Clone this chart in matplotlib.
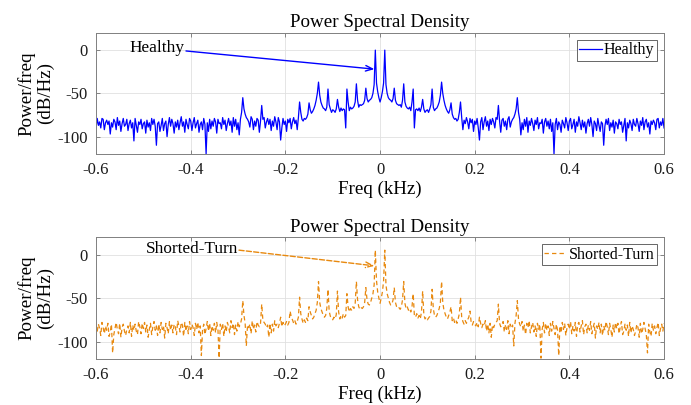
import numpy as np
import matplotlib
matplotlib.use('Agg')
import matplotlib.pyplot as plt

plt.rcParams['font.family'] = ['Liberation Serif', 'DejaVu Serif']
plt.rcParams['axes.unicode_minus'] = False

# one-sided half of the two-sided PSD (0 .. 0.6 kHz, step 0.0025 kHz); spectrum is mirror symmetric
freq_step = 0.0025
healthy_half = [
    -60, -55, -48, -38, 0, -40, -50, -55,
    -57, -58, -60, -56, -44, -58, -62, -63,
    -64, -63, -66, -58, -39, -60, -65, -67,
    -68, -66, -70, -60, -45, -90, -69, -68,
    -70, -67, -71, -66, -57, -68, -72, -70,
    -69, -72, -68, -63, -45, -66, -70, -68,
    -67, -64, -60, -52, -37, -50, -58, -64,
    -68, -71, -73, -69, -61, -74, -78, -80,
    -79, -82, -80, -72, -60, -78, -92, -81,
    -85, -78, -83, -91, -79, -84, -80, -94,
    -82, -86, -79, -90, -104, -83, -78, -92,
    -83, -77, -88, -82, -93, -80, -86, -79,
    -83, -90, -78, -80, -64, -82, -95, -81,
    -79, -88, -82, -92, -80, -77, -89, -83,
    -80, -78, -74, -68, -55, -72, -80, -98,
    -84, -92, -80, -88, -78, -95, -82, -87,
    -79, -85, -93, -81, -86, -78, -91, -84,
    -85, -80, -96, -83, -79, -88, -82, -91,
    -80, -94, -84, -120, -86, -79, -92, -83,
    -86, -95, -81, -85, -90, -78, -84, -93,
    -82, -79, -91, -86, -80, -95, -83, -88,
    -77, -84, -92, -81, -89, -83, -96, -85,
    -80, -88, -78, -86, -100, -82, -85, -93,
    -79, -87, -94, -83, -85, -110, -88, -80,
    -86, -79, -93, -84, -89, -81, -96, -83,
    -85, -91, -80, -86, -83, -95, -87, -79,
    -105, -84, -90, -81, -85, -93, -80, -86,
    -88, -79, -85, -94, -82, -87, -78, -92,
    -83, -80, -89, -84, -97, -82, -86, -81,
    -84, -92, -80, -79, -90, -83, -87, -79,
    -90,
]
shorted_half = [
    -56, -50, -43, -30, 5, -35, -45, -50,
    -55, -58, -57, -52, -38, -55, -60, -62,
    -61, -63, -60, -52, -31, -56, -62, -60,
    -64, -62, -66, -60, -45, -70, -72, -68,
    -73, -70, -74, -66, -42, -69, -74, -72,
    -75, -73, -71, -65, -40, -62, -70, -72,
    -70, -66, -62, -55, -31, -55, -64, -68,
    -72, -74, -70, -66, -60, -76, -73, -78,
    -75, -79, -74, -68, -49, -72, -77, -80,
    -76, -79, -75, -72, -65, -78, -81, -77,
    -80, -82, -78, -83, -72, -79, -84, -80,
    -82, -76, -88, -80, -90, -79, -95, -81,
    -84, -80, -78, -76, -57, -79, -83, -81,
    -77, -89, -81, -86, -76, -91, -80, -84,
    -81, -105, -79, -70, -53, -74, -80, -83,
    -77, -88, -81, -92, -79, -84, -76, -90,
    -83, -78, -89, -82, -94, -79, -86, -80,
    -119, -86, -78, -90, -79, -87, -82, -93,
    -79, -88, -77, -85, -92, -80, -87, -116,
    -82, -90, -78, -86, -79, -93, -84, -80,
    -86, -77, -91, -82, -88, -78, -94, -81,
    -78, -89, -82, -76, -92, -83, -80, -90,
    -81, -87, -77, -91, -84, -79, -96, -82,
    -86, -78, -90, -80, -93, -82, -87, -77,
    -83, -92, -79, -86, -95, -81, -89, -78,
    -85, -79, -91, -83, -77, -92, -88, -80,
    -87, -81, -94, -78, -90, -82, -86, -93,
    -88, -80, -84, -95, -79, -91, -86, -78,
    -85, -92, -113, -80, -89, -94, -79, -87,
    -82, -91, -84, -78, -93, -85, -80, -88,
    -79,
]

x_ticks = [-0.6, -0.4, -0.2, 0, 0.2, 0.4, 0.6]
x_ticklabels = ['-0.6', '-0.4', '-0.2', '0', '0.2', '0.4', '0.6']
y_ticks = [-100, -50, 0]

# (label, data, colour, linestyle, text pos, arrow tail, arrow head)
panels = [
    ('Healthy', healthy_half, '#0000FF', '-', (-0.413, 2.5), (-0.41, -1), (-0.012, -22)),
    ('Shorted-Turn', shorted_half, '#E8890F', (0, (3.5, 2.5)), (-0.30, 6.5), (-0.298, 5), (-0.012, -13)),
]


def mirror(half):
    half = np.asarray(half, dtype=float)
    return np.concatenate([half[:0:-1], half])


f_half = np.arange(len(healthy_half)) * freq_step
freq = np.concatenate([-f_half[:0:-1], f_half])

fig = plt.figure(figsize=(6.91, 4.05), dpi=100)
axes_pos = [[0.139, 0.620, 0.822, 0.299], [0.139, 0.1136, 0.822, 0.301]]

for pos, (label, half, color, ls, txt_pos, tail, head) in zip(axes_pos, panels):
    ax = fig.add_axes(pos)
    ax.plot(freq, mirror(half), color=color, lw=0.9, ls=ls, label=label)
    ax.set_xlim(-0.6, 0.6)
    ax.set_ylim(-120, 20)
    ax.set_xticks(x_ticks)
    ax.set_xticklabels(x_ticklabels)
    ax.set_yticks(y_ticks)
    ax.grid(True, color='0.88', lw=0.6)
    ax.set_axisbelow(True)
    ax.tick_params(direction='in', length=3, width=0.6, colors='0.45', labelcolor='0.1',
                   labelsize=12, pad=6, top=True, right=True)
    for s in ax.spines.values():
        s.set_color('0.5')
        s.set_linewidth(0.7)
    ax.set_title('Power Spectral Density', fontsize=13.7, pad=4)
    ax.set_xlabel('Freq (kHz)', fontsize=13.7, labelpad=2)
    ax.set_ylabel('Power/freq\n(dB/Hz)', fontsize=13.7, linespacing=1.15)
    ax.yaxis.set_label_coords(-0.073, 0.5)

    leg = ax.legend(loc='upper right', fontsize=11.5, handlelength=1.4, handletextpad=0.15,
                    borderpad=0.15, borderaxespad=0.45, fancybox=False, framealpha=1)
    leg.get_frame().set_edgecolor('0.3')
    leg.get_frame().set_linewidth(0.6)

    ax.text(txt_pos[0], txt_pos[1], label, fontsize=12.4, ha='right', va='center')
    ax.annotate('', xy=head, xytext=tail,
                arrowprops=dict(arrowstyle='->,head_length=0.5,head_width=0.2', color=color,
                                lw=1.0, ls='-' if ls == '-' else '--',
                                shrinkA=0, shrinkB=0))

fig.savefig('out.png', dpi=100)
